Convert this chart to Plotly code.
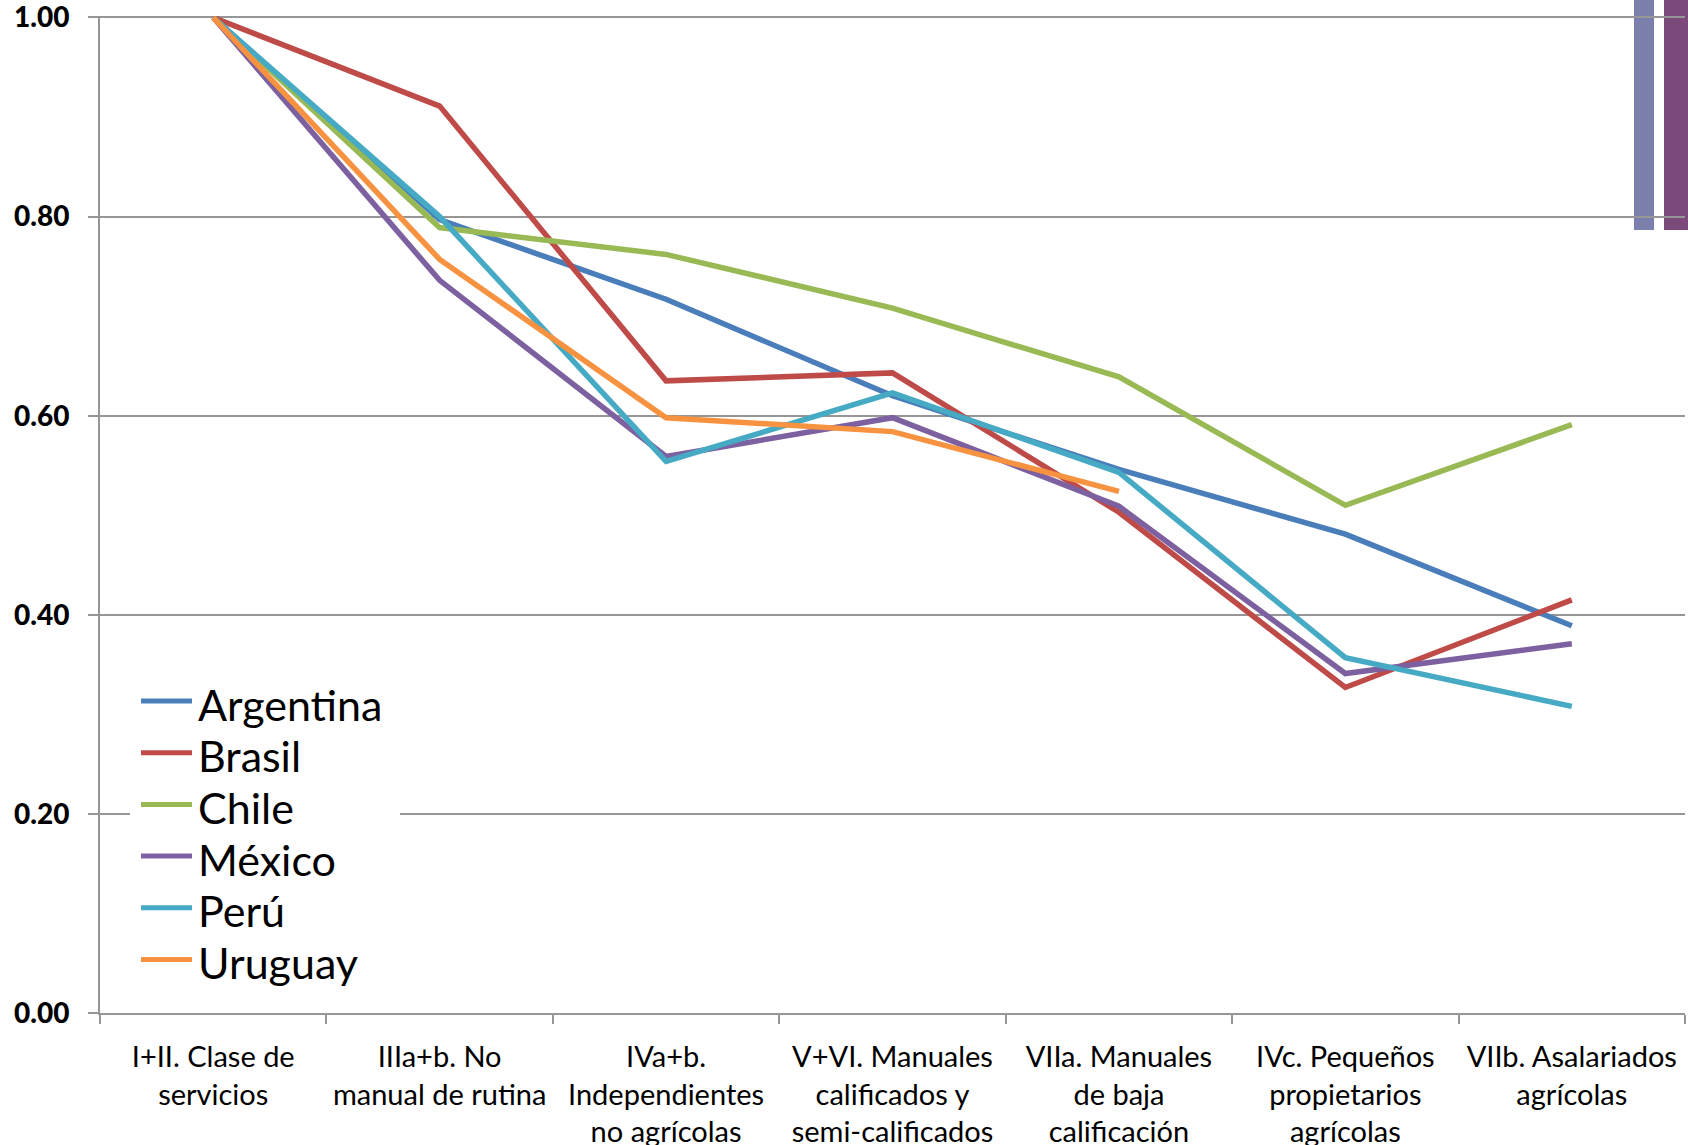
import plotly.graph_objects as go

# Occupational class categories (EGP scheme)
categories = [
    "I+II. Clase de<br>servicios",
    "IIIa+b. No<br>manual de rutina",
    "IVa+b.<br>Independientes<br>no agrícolas",
    "V+VI. Manuales<br>calificados y<br>semi-calificados",
    "VIIa. Manuales<br>de baja<br>calificación",
    "IVc. Pequeños<br>propietarios<br>agrícolas",
    "VIIb. Asalariados<br>agrícolas",
]

argentina = [1.00, 0.797, 0.717, 0.620, 0.546, 0.481, 0.389]
brasil = [1.00, 0.911, 0.635, 0.643, 0.503, 0.327, 0.415]
chile = [1.00, 0.789, 0.762, 0.708, 0.639, 0.510, 0.591]
mexico = [1.00, 0.736, 0.559, 0.598, 0.509, 0.341, 0.371]
peru = [1.00, 0.800, 0.554, 0.623, 0.543, 0.357, 0.308]
uruguay = [1.00, 0.757, 0.598, 0.584, 0.524, None, None]

y_ticks = [0.0, 0.2, 0.4, 0.6, 0.8, 1.0]
y_tick_text = ["0.00", "0.20", "0.40", "0.60", "0.80", "1.00"]

series = [
    ("Argentina", argentina, "#4a7ebb"),
    ("Brasil", brasil, "#be4b48"),
    ("Chile", chile, "#98b954"),
    ("México", mexico, "#7d60a0"),
    ("Perú", peru, "#46aac5"),
    ("Uruguay", uruguay, "#f69240"),
]

GRID = "#969696"
W, H = 1688, 1145
ML, MR, MT, MB = 100, 3, 16, 132
PW, PH = W - ML - MR, H - MT - MB


def px_x(x):
    return (x - ML) / PW


def px_y(y):
    return (H - MB - y) / PH


fig = go.Figure()
for name, vals, color in series:
    fig.add_trace(go.Scatter(
        x=categories, y=vals, name=name, mode="lines",
        line=dict(color=color, width=5.5),
        connectgaps=False, showlegend=False,
    ))

shapes = []
# two stray bars at the top-right edge
shapes.append(dict(type="rect", xref="paper", yref="paper",
                   x0=px_x(1634), x1=px_x(1654), y0=px_y(230), y1=px_y(-5),
                   fillcolor="#7b7fab", line=dict(width=0), layer="below"))
shapes.append(dict(type="rect", xref="paper", yref="paper",
                   x0=px_x(1664), x1=px_x(1692), y0=px_y(230), y1=px_y(-5),
                   fillcolor="#7b4a7b", line=dict(width=0), layer="below"))

# legend box
shapes.append(dict(type="rect", xref="paper", yref="paper",
                   x0=px_x(130), x1=px_x(400), y0=px_y(985), y1=px_y(672),
                   fillcolor="white", line=dict(width=0), layer="above"))

annotations = []
row0, step = 701, 51.7
for i, (name, vals, color) in enumerate(series):
    yc = row0 + i * step
    shapes.append(dict(type="line", xref="paper", yref="paper",
                       x0=px_x(141), x1=px_x(192), y0=px_y(yc), y1=px_y(yc),
                       line=dict(color=color, width=5), layer="above"))
    annotations.append(dict(xref="paper", yref="paper", x=px_x(196), y=px_y(yc + 3),
                            xanchor="left", yanchor="middle", showarrow=False,
                            text=name, font=dict(family="Lato", size=43, color="black")))

fig.update_layout(
    width=W, height=H,
    margin=dict(l=ML, r=MR, t=MT, b=MB, pad=0),
    paper_bgcolor="white", plot_bgcolor="white",
    template="none",
    shapes=shapes, annotations=annotations,
    showlegend=False,
    xaxis=dict(
        type="category", range=[-0.5, 6.5], automargin=False,
        showgrid=False, showline=True, linecolor=GRID, linewidth=2,
        ticks="outside", tickson="boundaries", ticklen=9, tickcolor=GRID, tickwidth=2,
        tickfont=dict(family="Lato", size=29, color="black"),
        ticklabelstandoff=17, zeroline=False,
    ),
    yaxis=dict(
        range=[0, 1.0015], automargin=False,
        tickvals=y_ticks, ticktext=y_tick_text,
        showgrid=True, gridcolor=GRID, gridwidth=2,
        showline=True, linecolor=GRID, linewidth=2,
        ticks="outside", ticklen=10, tickcolor=GRID, tickwidth=2,
        tickfont=dict(family="Lato", size=28, color="black", weight=900),
        ticklabelstandoff=13, ticklabeloverflow="allow", zeroline=False,
    ),
)

fig.write_html("out.html")
